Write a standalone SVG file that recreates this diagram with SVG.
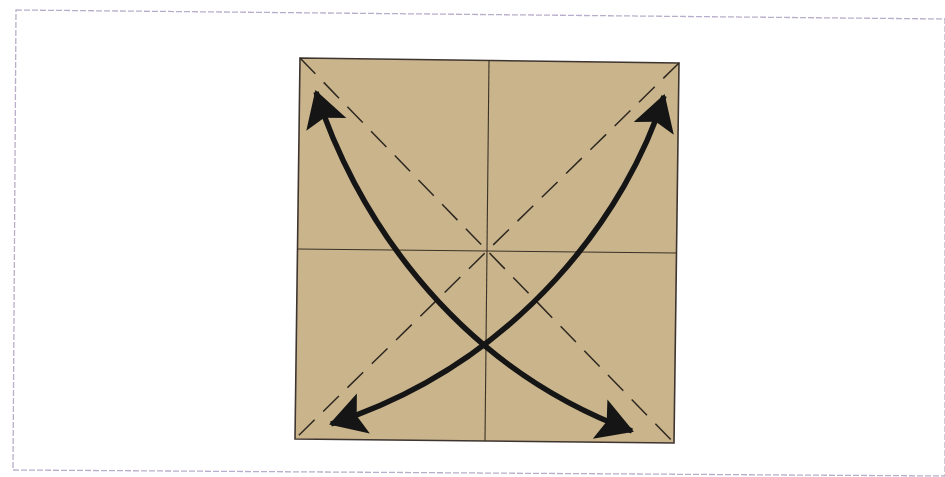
<svg xmlns="http://www.w3.org/2000/svg" width="945" height="477" viewBox="0 0 945 477">
<style>
.frame{fill:none;stroke:#b9aec9;stroke-width:1.3;stroke-dasharray:6 2}
.paper{fill:#c9b48c;stroke:#3e3530;stroke-width:1.6}
.crease{stroke:#3b3226;stroke-width:1.1;fill:none}
.dash{stroke:#2e2820;stroke-width:1.5;fill:none;stroke-dasharray:22 12}
.arrow{stroke:#151515;stroke-width:5.5;fill:none;marker-start:url(#head);marker-end:url(#head)}
</style>
<defs>
<marker id="head" markerUnits="userSpaceOnUse" viewBox="-40 -25 45 50" refX="0" refY="0" markerWidth="45" markerHeight="50" orient="auto-start-reverse">
<path d="M2,0 L-34,-21 L-27,0 L-34,21 Z" fill="#151515"/>
</marker>
</defs>
<polygon class="frame" points="16,10 945,19 945,476 13,470"/>
<g id="paper">
<polygon class="paper" points="300,58 679,63 674,443 295,439"/>
</g>
<g id="creases">
<line class="crease" x1="489" y1="60" x2="485" y2="441"/>
<line class="crease" x1="297" y1="249" x2="677" y2="253"/>
<line class="dash" x1="300" y1="58" x2="674" y2="443"/>
<line class="dash" x1="679" y1="63" x2="295" y2="439"/>
</g>
<g id="connectors">
<path class="arrow" d="M316,92 C352,205 446,362 632,431"/>
<path class="arrow" d="M664,96 C628,210 522,362 331,424"/>
</g>
</svg>
